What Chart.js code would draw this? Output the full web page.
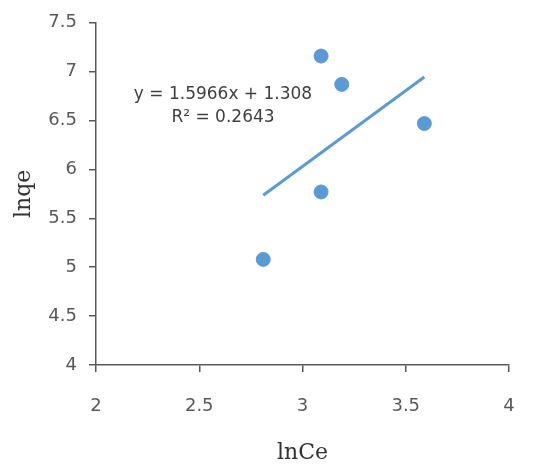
<!DOCTYPE html>
<html>
<head>
<meta charset="utf-8">
<script src="https://cdn.jsdelivr.net/npm/chart.js@4.4.0/dist/chart.umd.min.js"></script>
<style>
  html, body { margin: 0; padding: 0; background: #fff; }
  #wrap { width: 539px; height: 470px; }
</style>
</head>
<body>
<div id="wrap"><canvas id="chart" width="539" height="470"></canvas></div>
<script>
// data
const lnCe = [2.81, 3.09, 3.09, 3.19, 3.59];
const lnqe = [5.08, 5.77, 7.16, 6.87, 6.47];
const xTicks = [2, 2.5, 3, 3.5, 4];
const yTicks = [4, 4.5, 5, 5.5, 6, 6.5, 7, 7.5];
const equationText = 'y = 1.5966x + 1.308';
const r2Text = 'R² = 0.2643';

const blue = '#5B9BD5';
const grey = '#595959';

// least squares fit for the trendline
function fitLine(xs, ys) {
    const n = xs.length;
    const mx = xs.reduce((a, b) => a + b, 0) / n;
    const my = ys.reduce((a, b) => a + b, 0) / n;
    let sxy = 0, sxx = 0;
    for (let i = 0; i < n; i++) {
        sxy += (xs[i] - mx) * (ys[i] - my);
        sxx += (xs[i] - mx) * (xs[i] - mx);
    }
    const slope = sxy / sxx;
    return { slope: slope, intercept: my - slope * mx };
}

const fit = fitLine(lnCe, lnqe);
const xMin = Math.min(...lnCe);
const xMax = Math.max(...lnCe);
const trend = [xMin, xMax].map(x => ({ x: x, y: fit.slope * x + fit.intercept }));
const points = lnCe.map((x, i) => ({ x: x, y: lnqe[i] }));

const equationLabel = {
    id: 'equationLabel',
    afterDatasetsDraw(chart) {
        const ctx = chart.ctx;
        const xs = chart.scales.x;
        const ys = chart.scales.y;
        const cx = xs.getPixelForValue(2.615);
        ctx.save();
        ctx.font = '17px "DejaVu Sans"';
        ctx.fillStyle = '#404040';
        ctx.textAlign = 'center';
        ctx.textBaseline = 'middle';
        ctx.fillText(equationText, cx, ys.getPixelForValue(6.77));
        ctx.fillText(r2Text, cx, ys.getPixelForValue(6.535));
        ctx.restore();
    }
};

new Chart(document.getElementById('chart'), {
    type: 'scatter',
    data: {
        datasets: [
            {
                label: 'lnqe',
                data: points,
                backgroundColor: blue,
                borderColor: blue,
                pointRadius: 7,
                pointHoverRadius: 7,
                order: 1
            },
            {
                type: 'line',
                label: 'Linear',
                data: trend,
                borderColor: blue,
                borderWidth: 3,
                pointRadius: 0,
                fill: false,
                order: 2
            }
        ]
    },
    options: {
        responsive: false,
        animation: false,
        layout: { padding: { left: 0, top: 18, right: 30, bottom: 0 } },
        plugins: {
            legend: { display: false },
            tooltip: { enabled: false }
        },
        scales: {
            x: {
                type: 'linear',
                min: 2,
                max: 4,
                afterBuildTicks(scale) { scale.ticks = xTicks.map(v => ({ value: v })); },
                afterFit(scale) { scale.height = 105; },
                border: { color: grey, width: 1.5 },
                grid: { drawOnChartArea: false, drawTicks: true, tickLength: 7, color: grey, lineWidth: 1.5 },
                ticks: {
                    color: grey,
                    font: { family: 'DejaVu Sans', size: 18 },
                    padding: 24,
                    maxRotation: 0,
                    callback: v => String(v)
                },
                title: {
                    display: true,
                    text: 'lnCe',
                    color: '#333',
                    font: { family: 'DejaVu Serif', size: 22 },
                    padding: { top: 4, bottom: 4 }
                }
            },
            y: {
                type: 'linear',
                min: 4,
                max: 7.5,
                afterBuildTicks(scale) { scale.ticks = yTicks.map(v => ({ value: v })); },
                afterFit(scale) { scale.width = 96; },
                border: { color: grey, width: 1.5 },
                grid: { drawOnChartArea: false, drawTicks: true, tickLength: 7, color: grey, lineWidth: 1.5 },
                ticks: {
                    color: grey,
                    font: { family: 'DejaVu Sans', size: 18 },
                    padding: 12,
                    callback: v => String(v)
                },
                title: {
                    display: true,
                    text: 'lnqe',
                    color: '#333',
                    font: { family: 'DejaVu Serif', size: 22 },
                    padding: { top: 11, bottom: 4 }
                }
            }
        }
    },
    plugins: [equationLabel]
});
</script>
</body>
</html>
